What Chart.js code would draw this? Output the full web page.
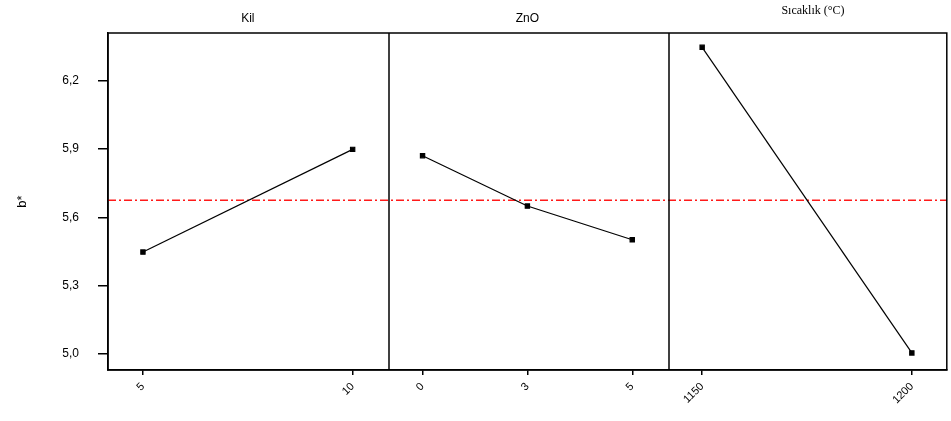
<!DOCTYPE html>
<html lang="tr">
<head>
<meta charset="UTF-8">
<title>b* ana etkiler</title>
<script src="https://cdn.jsdelivr.net/npm/chart.js"></script>
<style>
    html, body { margin: 0; padding: 0; background: #fff; }
    #wrap { width: 951px; height: 421px; position: relative; }
</style>
</head>
<body>
<div id="wrap"><canvas id="effects"></canvas></div>
<script>
    // factor levels and mean b* per level
    const panelTitles = ['Kil', 'ZnO', 'Sıcaklık (°C)'];
    const kilLevels = ['5', '10'];
    const kilMeans = [5.448, 5.899];
    const znoLevels = ['0', '3', '5'];
    const znoMeans = [5.871, 5.650, 5.502];
    const tempLevels = ['1150', '1200'];
    const tempMeans = [6.347, 5.005];
    const grandMean = 5.676;
    const yTicks = [5.0, 5.3, 5.6, 5.9, 6.2];

    const panels = [
        { levels: kilLevels, means: kilMeans },
        { levels: znoLevels, means: znoMeans },
        { levels: tempLevels, means: tempMeans }
    ];

    // each panel takes one unit on the x axis, levels spread inside it
    const inset = 0.125;
    function levelX(p, i, n) {
        return p + inset + i * (1 - 2 * inset) / (n - 1);
    }

    const xTicks = [];
    const datasets = [];
    panels.forEach((panel, p) => {
        const n = panel.levels.length;
        panel.levels.forEach((lab, i) => xTicks.push({ value: levelX(p, i, n), label: lab }));
        datasets.push({
            data: panel.means.map((m, i) => ({ x: levelX(p, i, n), y: m })),
            borderColor: '#000',
            backgroundColor: '#000',
            borderWidth: 1.2,
            pointStyle: 'rect',
            pointRadius: 3,
            pointHoverRadius: 3
        });
    });

    datasets.push({
        data: [{ x: 0, y: grandMean }, { x: panels.length, y: grandMean }],
        borderColor: '#ff1a1a',
        borderWidth: 1.5,
        borderDash: [8, 3, 2, 3],
        pointRadius: 0
    });

    // panel frames, dividers and titles
    const panelFrame = {
        id: 'panelFrame',
        afterDatasetsDraw(chart) {
            const { ctx, chartArea: a, scales: { x } } = chart;
            ctx.save();
            ctx.strokeStyle = '#000';
            ctx.lineWidth = 1.5;
            ctx.strokeRect(a.left, a.top, a.right - a.left, a.bottom - a.top);
            for (let p = 1; p < panels.length; p++) {
                const px = Math.round(x.getPixelForValue(p)) + p;
                ctx.beginPath();
                ctx.moveTo(px, a.top);
                ctx.lineTo(px, a.bottom);
                ctx.stroke();
            }
            ctx.fillStyle = '#000';
            ctx.textAlign = 'center';
            ctx.textBaseline = 'middle';
            panelTitles.forEach((t, p) => {
                const cx = x.getPixelForValue(p + 0.5);
                if (p === 2) {
                    ctx.font = '12px "Liberation Serif"';
                    ctx.fillText(t, cx + 6, 11);
                } else {
                    ctx.font = '12px "Liberation Sans"';
                    ctx.fillText(t, cx, 19);
                }
            });
            ctx.restore();
        }
    };

    new Chart(document.getElementById('effects'), {
        type: 'line',
        data: { datasets },
        plugins: [panelFrame],
        options: {
            responsive: true,
            maintainAspectRatio: false,
            animation: false,
            layout: { padding: { top: 33, right: 1, bottom: 0, left: 0 } },
            plugins: { legend: { display: false }, tooltip: { enabled: false } },
            scales: {
                x: {
                    type: 'linear',
                    min: 0,
                    max: panels.length,
                    afterBuildTicks: s => { s.ticks = xTicks.map(t => ({ value: t.value })); },
                    afterFit: s => { s.height = 51; },
                    ticks: {
                        callback: (v, i) => xTicks[i].label,
                        minRotation: 45,
                        maxRotation: 45,
                        padding: 5,
                        color: '#000',
                        font: { family: 'Liberation Sans', size: 11 }
                    },
                    grid: { drawOnChartArea: false, tickLength: 5, color: '#000', lineWidth: 1.5 },
                    border: { color: '#000', width: 1.5 }
                },
                y: {
                    min: 4.93,
                    max: 6.41,
                    afterBuildTicks: s => { s.ticks = yTicks.map(v => ({ value: v })); },
                    afterFit: s => { s.width = 108; },
                    ticks: {
                        callback: v => v.toFixed(1).replace('.', ','),
                        padding: 19,
                        color: '#000',
                        font: { family: 'Liberation Sans', size: 12 }
                    },
                    grid: { drawOnChartArea: false, tickLength: 10, color: '#000', lineWidth: 1.5 },
                    border: { color: '#000', width: 1.5 },
                    title: {
                        display: true,
                        text: 'b*',
                        color: '#000',
                        padding: { top: 15, bottom: 0 },
                        font: { family: 'Liberation Sans', size: 13 }
                    }
                }
            }
        }
    });
</script>
</body>
</html>
